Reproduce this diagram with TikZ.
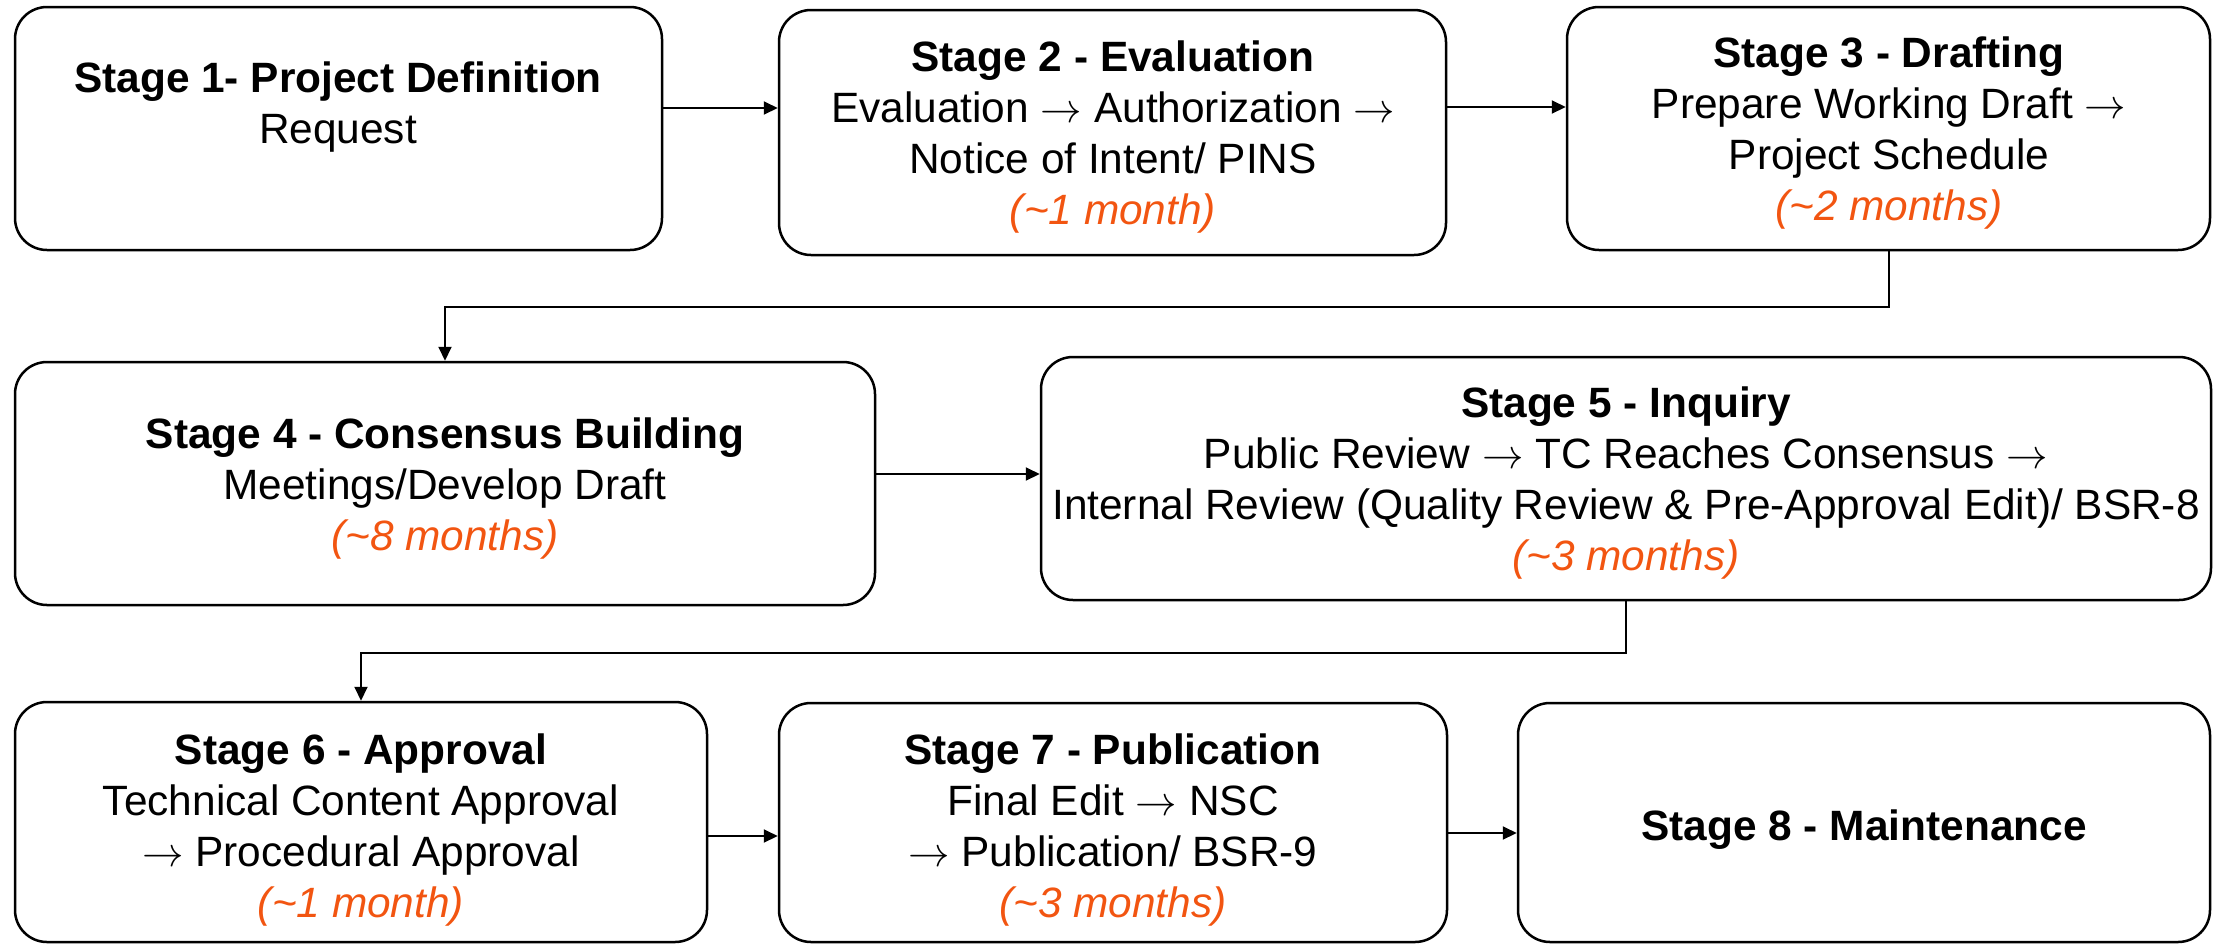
\documentclass[tikz,border=0pt]{standalone}
\usepackage{fontspec}
\setmainfont{Liberation Sans}
\usetikzlibrary{arrows.meta,fit}
\definecolor{durcol}{HTML}{F25511}
\newcommand\durtxt[1]{{\color{durcol}\itshape #1}}
\newcommand\rarr{\ensuremath{\rightarrow}}
\begin{document}
\begin{tikzpicture}[x=0.5pt,y=-0.5pt,
  box/.style={draw, line width=1.25pt, rounded corners=16pt, inner sep=0pt},
  txt/.style={align=center, anchor=base, inner sep=0pt, font=\fontsize{21.2}{25.5}\selectfont},
  arr/.style={line width=1pt, -{Triangle[length=7pt,width=6.5pt]}}]
\useasboundingbox (0,0) rectangle (2224,944);
% boxes
\node[box, fit={(15,7) (662,250)}] (b1) {};
\node[box, fit={(779,10) (1446,255)}] (b2) {};
\node[box, fit={(1567,7) (2210,250)}] (b3) {};
\node[box, fit={(15,362) (875,605)}] (b4) {};
\node[box, fit={(1041,357) (2211,600)}] (b5) {};
\node[box, fit={(15,702) (707,942)}] (b6) {};
\node[box, fit={(779,703) (1447,942)}] (b7) {};
\node[box, fit={(1518,703) (2210,942)}] (b8) {};
% texts (anchored at the baseline of the last line)
\node[txt] (t1) at (338,143) {\textbf{Stage 1- Project Definition}\\Request};
\node[txt] (t2) at (1113,224) {\textbf{Stage 2 - Evaluation}\\Evaluation \rarr{} Authorization \rarr\\Notice of Intent/ PINS\\\durtxt{(\textasciitilde1 month)}};
\node[txt] (t3) at (1889,220) {\textbf{Stage 3 - Drafting}\\Prepare Working Draft \rarr\\Project Schedule\\\durtxt{(\textasciitilde2 months)}};
\node[txt] (t4) at (445,550) {\textbf{Stage 4 - Consensus Building}\\Meetings/Develop Draft\\\durtxt{(\textasciitilde8 months)}};
\node[txt] (t5) at (1626,570) {\textbf{Stage 5 - Inquiry}\\Public Review \rarr{} TC Reaches Consensus \rarr\\Internal Review (Quality Review \& Pre-Approval Edit)/ BSR-8\\\durtxt{(\textasciitilde3 months)}};
\node[txt] (t6) at (361,917) {\textbf{Stage 6 - Approval}\\Technical Content Approval\\\rarr{} Procedural Approval\\\durtxt{(\textasciitilde1 month)}};
\node[txt] (t7) at (1113,917) {\textbf{Stage 7 - Publication}\\Final Edit \rarr{} NSC\\\rarr{} Publication/ BSR-9\\\durtxt{(\textasciitilde3 months)}};
\node[txt] (t8) at (1864,840) {\textbf{Stage 8 - Maintenance}};
% arrow rows
\coordinate (r12) at (0,108);
\coordinate (r23) at (0,107);
\coordinate (r45) at (0,474);
\coordinate (r67) at (0,836);
\coordinate (r78) at (0,833);
\draw[arr] (b1.east |- r12) -- (b2.west |- r12);
\draw[arr] (b2.east |- r23) -- (b3.west |- r23);
\draw[arr] (b4.east |- r45) -- (b5.west |- r45);
\draw[arr] (b6.east |- r67) -- (b7.west |- r67);
\draw[arr] (b7.east |- r78) -- (b8.west |- r78);
\draw[arr] (b3.south) -- ++(0,56) -| (b4.north);
\draw[arr] (b5.south) -- ++(0,52) -| (b6.north);
\end{tikzpicture}
\end{document}
